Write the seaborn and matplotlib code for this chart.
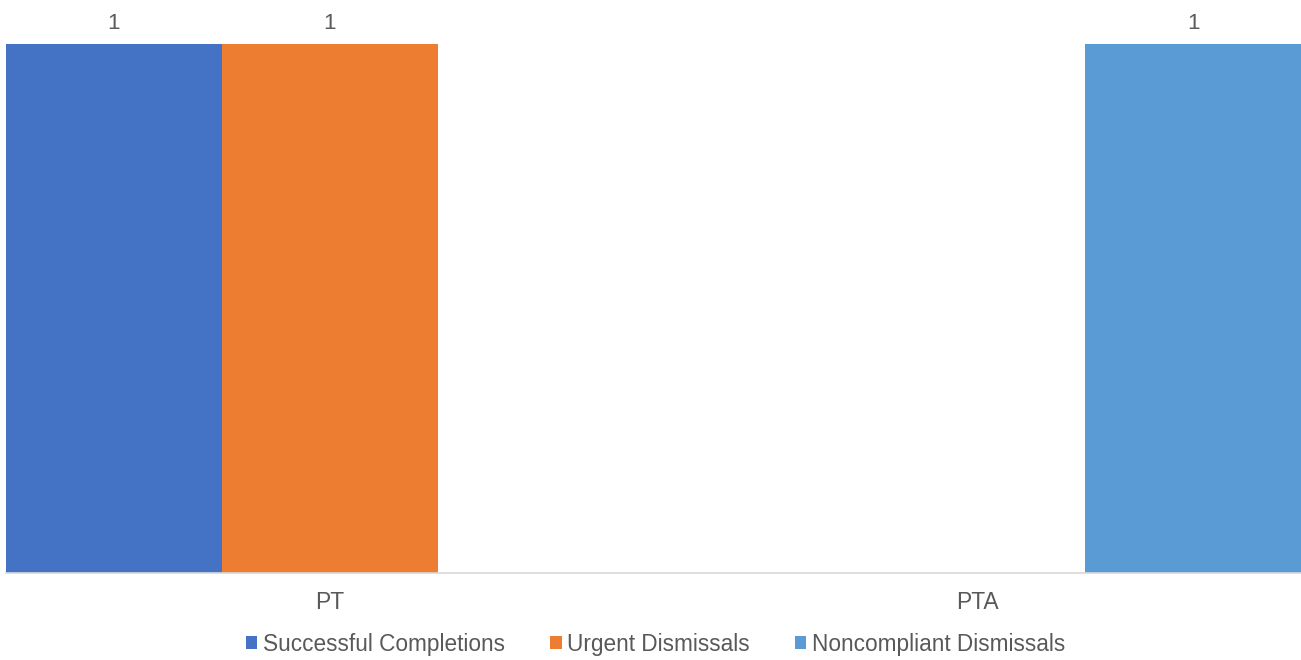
import numpy as np
import pandas as pd
import matplotlib
matplotlib.use("Agg")
import matplotlib.pyplot as plt
import seaborn as sns

# values (NaN = no bar)
categories = ["PT", "PTA"]
series_names = ["Successful Completions", "Urgent Dismissals", "Noncompliant Dismissals"]
successful = [1, np.nan]
urgent = [1, np.nan]
noncompliant = [np.nan, 1]
colors = ["#4472C4", "#ED7D31", "#5B9BD5"]

df = pd.DataFrame({
    "category": categories * 3,
    "series": [s for s in series_names for _ in categories],
    "value": successful + urgent + noncompliant,
})

sns.set_style("white")
plt.rcParams["font.family"] = ["Liberation Sans", "DejaVu Sans"]
text_col = "#595959"

fig = plt.figure(figsize=(13.01, 6.6), dpi=100)
ax = fig.add_axes([6 / 1301, 1 - 573 / 660, 1295 / 1301, (573 - 44) / 660])

sns.barplot(data=df, x="category", y="value", hue="series", hue_order=series_names,
            order=categories, palette=colors, width=1.0, gap=0, saturation=1,
            errorbar=None, ax=ax, legend=True, linewidth=0)

for cont in ax.containers:
    labels = ["" if np.isnan(v) else f"{v:.0f}" for v in cont.datavalues]
    ax.bar_label(cont, labels=labels, padding=7, fontsize=16, color=text_col)

ax.set_ylim(0, 1)
ax.set_xlim(-0.5, 1.5)
ax.set_xlabel("")
ax.set_ylabel("")
ax.set_yticks([])
ax.tick_params(axis="x", length=0, pad=13, labelsize=16.5, labelcolor=text_col)
for side in ["top", "left", "right"]:
    ax.spines[side].set_visible(False)
ax.spines["bottom"].set_color("#D9D9D9")
ax.spines["bottom"].set_linewidth(1.2)

handles, labels = ax.get_legend_handles_labels()
ax.get_legend().remove()
leg = fig.legend(handles, labels, loc="center", bbox_to_anchor=(0.504, 1 - 644 / 660),
                 ncol=3, frameon=False, fontsize=16.3, handlelength=0.5, handleheight=0.5,
                 handletextpad=0.25, columnspacing=2.0)
for t in leg.get_texts():
    t.set_color(text_col)

fig.savefig("out.png", dpi=100)
